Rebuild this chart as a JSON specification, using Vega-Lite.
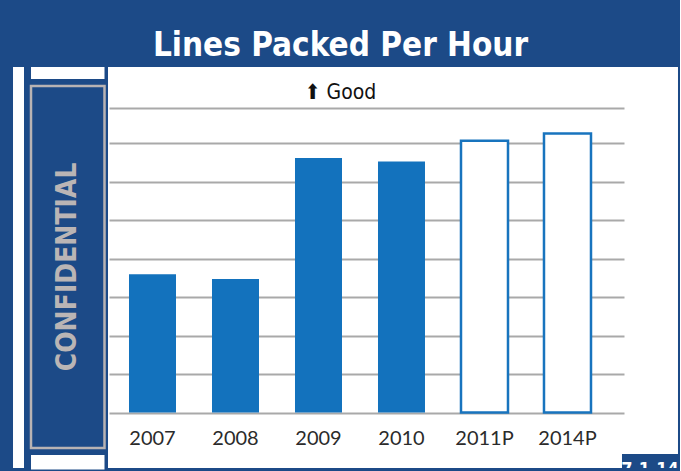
{
  "$schema": "https://vega.github.io/schema/vega-lite/v6.json",
  "background": "#1c4a87",
  "padding": {"left": 13, "top": 29.9, "right": 2, "bottom": 3},
  "config": {"view": {"stroke": null}},
  "title": {
    "text": "Lines Packed Per Hour",
    "subtitle": "⬆ Good",
    "anchor": "middle",
    "frame": "bounds",
    "dx": -5,
    "color": "#ffffff",
    "font": "Liberation Sans Narrow, DejaVu Sans Condensed, sans-serif",
    "fontSize": 33,
    "fontWeight": "bold",
    "subtitleColor": "#111111",
    "subtitleFont": "Liberation Sans Narrow, DejaVu Sans Condensed, sans-serif",
    "subtitleFontSize": 21,
    "subtitlePadding": 19.5,
    "offset": -36.6,
    "zindex": 1
  },
  "spacing": 2,
  "hconcat": [
    {
      "spacing": 5,
      "hconcat": [
        {
          "width": 11,
          "height": 401,
          "view": {"fill": "#ffffff", "stroke": null},
          "data": {"values": [{}]},
          "mark": {"type": "text"},
          "encoding": {"text": {"value": ""}}
        },
        {
          "spacing": 5,
          "vconcat": [
            {
              "width": 73.5,
              "height": 12,
              "view": {"fill": "#ffffff", "stroke": null},
              "data": {"values": [{}]},
              "mark": {"type": "text"},
              "encoding": {"text": {"value": ""}}
            },
            {
              "width": 73.5,
              "height": 362,
              "view": {"fill": "#1c4a87", "stroke": "#b8b3b3", "strokeWidth": 2.5},
              "data": {"values": [{"label": "CONFIDENTIAL"}]},
              "mark": {
                "type": "text",
                "angle": 270,
                "align": "center",
                "baseline": "middle",
                "font": "Liberation Sans Narrow, DejaVu Sans Condensed, sans-serif",
                "fontSize": 28,
                "fontWeight": "bold",
                "color": "#bab5b5"
              },
              "encoding": {"text": {"field": "label"}}
            },
            {
              "width": 73.5,
              "height": 14.5,
              "view": {"fill": "#ffffff", "stroke": null},
              "data": {"values": [{}]},
              "mark": {"type": "text"},
              "encoding": {"text": {"value": ""}}
            }
          ]
        }
      ]
    },
    {
      "spacing": 0,
      "vconcat": [
        {
          "width": 570,
          "height": 387,
          "view": {"fill": "#ffffff", "stroke": null},
          "data": {
            "values": [
              {"year": "2007", "value": 35.95, "type": "actual"},
              {"year": "2008", "value": 34.7, "type": "actual"},
              {"year": "2009", "value": 66.1, "type": "actual"},
              {"year": "2010", "value": 65.2, "type": "actual"},
              {"year": "2011P", "value": 70.6, "type": "projected"},
              {"year": "2014P", "value": 72.5, "type": "projected"}
            ]
          },
          "encoding": {
            "x": {
              "field": "year",
              "type": "ordinal",
              "sort": null,
              "scale": {
                "domain": ["2007", "2008", "2009", "2010", "2011P", "2014P"],
                "paddingInner": 0.4337,
                "paddingOuter": 0.6506,
                "align": 0.1944
              },
              "axis": {
                "orient": "bottom",
                "offset": -41.3,
                "domain": false,
                "ticks": false,
                "tickSize": 0,
                "labelPadding": 32.3,
                "labelBaseline": "alphabetic",
                "labelAngle": 0,
                "labelFont": "Lato",
                "labelFontSize": 20,
                "labelColor": "#2b2b2b",
                "title": null
              }
            },
            "y": {
              "field": "value",
              "type": "quantitative",
              "scale": {"domain": [-10.73, 89.79], "nice": false, "zero": false},
              "axis": {
                "orient": "left",
                "offset": -516,
                "domain": false,
                "labels": false,
                "grid": false,
                "ticks": true,
                "tickSize": 515,
                "tickWidth": 2,
                "tickColor": "#a9a9a9",
                "values": [0, 10, 20, 30, 40, 50, 60, 70, 79.1],
                "title": null
              }
            },
            "y2": {"datum": 0}
          },
          "layer": [
            {
              "transform": [{"filter": "datum.type === 'actual'"}],
              "mark": {"type": "bar", "color": "#1372bd"}
            },
            {
              "transform": [{"filter": "datum.type === 'projected'"}],
              "mark": {"type": "bar", "fill": "#ffffff", "stroke": "#1874be", "strokeWidth": 2.5}
            }
          ]
        },
        {
          "spacing": 0,
          "hconcat": [
            {
              "width": 514,
              "height": 14,
              "view": {"fill": "#ffffff", "stroke": null},
              "data": {"values": [{}]},
              "mark": {"type": "text"},
              "encoding": {"text": {"value": ""}}
            },
            {
              "width": 56,
              "height": 14,
              "view": {"stroke": null},
              "data": {"values": [{"label": "7.1.14"}]},
              "mark": {
                "type": "text",
                "clip": true,
                "align": "center",
                "baseline": "top",
                "font": "Liberation Sans Narrow, DejaVu Sans Condensed, sans-serif",
                "fontSize": 18,
                "fontWeight": "bold",
                "color": "#ffffff"
              },
              "encoding": {"text": {"field": "label"}}
            }
          ]
        }
      ]
    }
  ]
}
